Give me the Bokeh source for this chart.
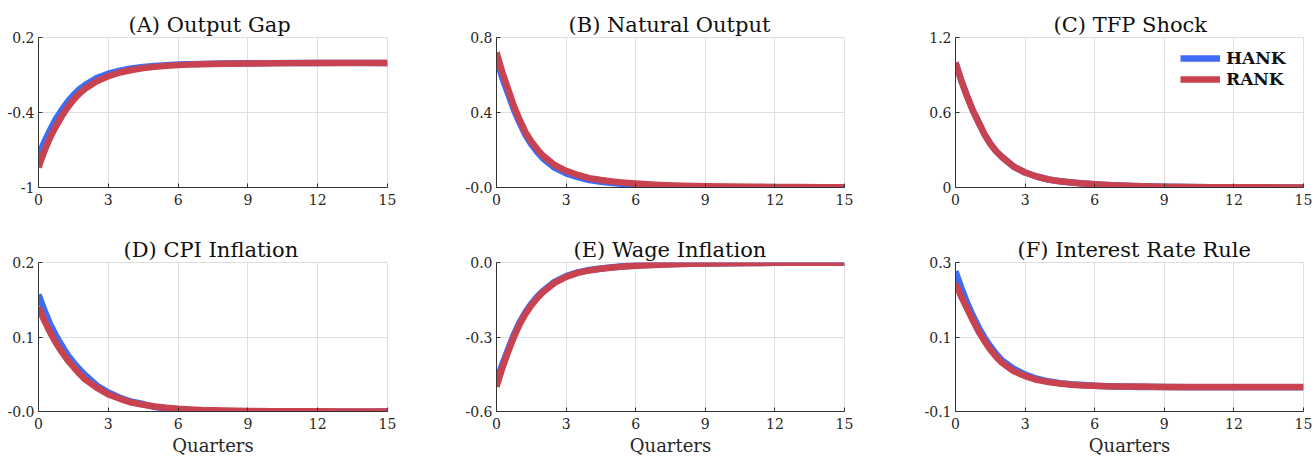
from bokeh.plotting import figure
from bokeh.models import Range1d, FixedTicker, Legend, LegendItem, Title
from bokeh.layouts import column, row
from bokeh.embed import file_html
from bokeh.resources import INLINE

# ---------------- data ----------------
quarters = [0, 0.25, 0.5, 0.75, 1, 1.25, 1.5, 1.75, 2,
            2.5, 3, 3.5, 4, 4.5, 5, 5.5, 6, 6.5, 7,
            8, 9, 10, 11, 12, 13, 14, 15]

gap_hank = [-0.75, -0.635, -0.54, -0.45, -0.38, -0.315, -0.26, -0.215, -0.18,
            -0.125, -0.09, -0.066, -0.048, -0.036, -0.027, -0.021, -0.016, -0.013, -0.011,
            -0.008, -0.006, -0.005, -0.004, -0.004, -0.003, -0.003, -0.003]
gap_rank = [-0.84, -0.71, -0.60, -0.51, -0.43, -0.36, -0.30, -0.25, -0.21,
            -0.15, -0.11, -0.08, -0.06, -0.045, -0.035, -0.027, -0.021, -0.017, -0.014,
            -0.010, -0.008, -0.006, -0.005, -0.004, -0.004, -0.003, -0.003]

nat_hank = [0.69, 0.585, 0.50, 0.415, 0.345, 0.28, 0.23, 0.19, 0.155,
            0.106, 0.075, 0.055, 0.04, 0.031, 0.024, 0.018, 0.013, 0.010, 0.008,
            0.005, 0.003, 0.002, 0.001, 0.001, 0.0, 0.0, 0.0]
nat_rank = [0.72, 0.615, 0.525, 0.435, 0.36, 0.295, 0.245, 0.205, 0.17,
            0.12, 0.089, 0.067, 0.05, 0.04, 0.032, 0.026, 0.021, 0.017, 0.014,
            0.010, 0.007, 0.005, 0.004, 0.003, 0.003, 0.002, 0.002]

tfp_hank = [1.0, 0.855, 0.73, 0.615, 0.52, 0.425, 0.35, 0.29, 0.245,
            0.168, 0.12, 0.088, 0.064, 0.05, 0.04, 0.032, 0.026, 0.021, 0.017,
            0.011, 0.007, 0.005, 0.003, 0.002, 0.002, 0.001, 0.001]
tfp_rank = [1.0, 0.855, 0.73, 0.615, 0.52, 0.425, 0.35, 0.29, 0.245,
            0.168, 0.12, 0.088, 0.064, 0.05, 0.04, 0.032, 0.026, 0.021, 0.017,
            0.011, 0.007, 0.005, 0.003, 0.002, 0.002, 0.001, 0.001]

cpi_hank = [0.157, 0.136, 0.117, 0.102, 0.0885, 0.076, 0.066, 0.057, 0.049,
            0.035, 0.0256, 0.0185, 0.013, 0.010, 0.006, 0.004, 0.002, 0.001, 0.0,
            -0.0005, -0.0005, -0.0005, -0.0004, -0.0003, -0.0002, -0.0002, -0.0001]
cpi_rank = [0.14, 0.122, 0.106, 0.092, 0.08, 0.069, 0.06, 0.051, 0.043,
            0.032, 0.023, 0.017, 0.012, 0.009, 0.0068, 0.005, 0.0037, 0.0028, 0.002,
            0.0013, 0.0008, 0.0005, 0.0003, 0.0002, 0.0001, 0.0, 0.0]

wage_hank = [-0.48, -0.41, -0.35, -0.29, -0.24, -0.20, -0.166, -0.138, -0.115,
             -0.078, -0.055, -0.04, -0.03, -0.024, -0.019, -0.015, -0.012, -0.010, -0.008,
             -0.005, -0.004, -0.003, -0.002, -0.0015, -0.001, -0.001, -0.001]
wage_rank = [-0.50, -0.425, -0.36, -0.30, -0.248, -0.207, -0.173, -0.144, -0.12,
             -0.082, -0.058, -0.042, -0.032, -0.025, -0.02, -0.016, -0.013, -0.011, -0.009,
             -0.006, -0.004, -0.003, -0.002, -0.0015, -0.001, -0.001, -0.001]

rate_hank = [0.276, 0.232, 0.192, 0.157, 0.125, 0.098, 0.075, 0.055, 0.037,
             0.015, -0.001, -0.012, -0.019, -0.024, -0.027, -0.029, -0.031, -0.032, -0.033,
             -0.034, -0.034, -0.035, -0.035, -0.035, -0.035, -0.035, -0.035]
rate_rank = [0.243, 0.208, 0.176, 0.144, 0.114, 0.089, 0.066, 0.047, 0.031,
             0.0085, -0.005, -0.015, -0.021, -0.025, -0.028, -0.030, -0.031, -0.032, -0.033,
             -0.033, -0.034, -0.034, -0.034, -0.034, -0.034, -0.034, -0.034]

x_ticks = [0, 3, 6, 9, 12, 15]

panel_letters = ["(A)", "(B)", "(C)", "(D)", "(E)", "(F)"]
panel_names = ["Output Gap", "Natural Output", "TFP Shock",
               "CPI Inflation", "Wage Inflation", "Interest Rate Rule"]

y_ticks = [[-1, -0.4, 0.2], [0, 0.4, 0.8], [0, 0.6, 1.2],
           [0, 0.1, 0.2], [-0.6, -0.3, 0.0], [-0.1, 0.1, 0.3]]
y_tick_labels = [["-1", "-0.4", "0.2"], ["-0.0", "0.4", "0.8"], ["0", "0.6", "1.2"],
                 ["-0.0", "0.1", "0.2"], ["-0.6", "-0.3", "0.0"], ["-0.1", "0.1", "0.3"]]

series = [(gap_hank, gap_rank), (nat_hank, nat_rank), (tfp_hank, tfp_rank),
          (cpi_hank, cpi_rank), (wage_hank, wage_rank), (rate_hank, rate_rank)]

legend_labels = ["HANK", "RANK"]

# ---------------- style ----------------
FONT = "DejaVu Serif"
BLUE = "#3f6cf4"
RED = "#c8434f"
AXC = "#333333"
GRIDC = "#dfdfdf"

# per column: (width, min_border_left, min_border_right)
cols = [(440, 38, 53), (460, 56, 56), (415, 55, 12)]
# per row: (height, min_border_top, min_border_bottom, show x label)
rows_geo = [(225, 37, 38, False), (233, 37, 46, True)]
# left edge of each title, measured from the frame's left edge
title_start = [90, 72, 98, 85, 77, 62]

figs = []
for i in range(6):
    r, c = divmod(i, 3)
    w, bl, br = cols[c]
    h, bt, bb, show_xlabel = rows_geo[r]
    lo, hi = y_ticks[i][0], y_ticks[i][-1]
    p = figure(width=w, height=h, output_backend="svg", toolbar_location=None,
               x_range=Range1d(0, 15), y_range=Range1d(lo, hi),
               min_border_left=bl, min_border_right=br,
               min_border_top=bt, min_border_bottom=bb,
               background_fill_color="white", border_fill_color="white",
               outline_line_color=GRIDC)
    p.title = Title(text=panel_letters[i] + " " + panel_names[i], align="left",
                    offset=title_start[i],
                    text_font=FONT, text_font_size="21px", text_font_style="normal",
                    text_color="#111111", standoff=1)
    hank, rank = series[i]
    rb = p.line(quarters, hank, line_color=BLUE, line_width=6.5, line_join="round")
    rr = p.line(quarters, rank, line_color=RED, line_width=6.5, line_join="round")

    p.xaxis.ticker = FixedTicker(ticks=x_ticks)
    p.yaxis.ticker = FixedTicker(ticks=y_ticks[i])
    p.yaxis.major_label_overrides = {v: s for v, s in zip(y_ticks[i], y_tick_labels[i])}
    p.xaxis.major_label_overrides = {v: str(v) for v in x_ticks}
    for ax in (p.xaxis, p.yaxis):
        ax.axis_line_color = AXC
        ax.axis_line_width = 1
        ax.major_tick_line_color = AXC
        ax.major_tick_in = 4
        ax.major_tick_out = 0
        ax.minor_tick_line_color = None
        ax.major_label_text_font = FONT
        ax.major_label_text_font_size = "14px"
        ax.major_label_text_color = "#262626"
    p.xaxis.major_label_standoff = 6
    p.yaxis.major_label_standoff = 4
    if show_xlabel:
        p.xaxis.axis_label = "Quarters"
        p.xaxis.axis_label_text_font = FONT
        p.xaxis.axis_label_text_font_size = "18px"
        p.xaxis.axis_label_text_font_style = "normal"
        p.xaxis.axis_label_text_color = "#262626"
        p.xaxis.axis_label_standoff = 3
    p.xgrid.ticker = FixedTicker(ticks=x_ticks)
    p.ygrid.ticker = FixedTicker(ticks=y_ticks[i])
    p.xgrid.grid_line_color = GRIDC
    p.ygrid.grid_line_color = GRIDC

    if i == 2:
        leg = Legend(items=[LegendItem(label=legend_labels[0], renderers=[rb]),
                            LegendItem(label=legend_labels[1], renderers=[rr])],
                     location="top_right", border_line_color=None,
                     background_fill_alpha=0, label_text_font=FONT,
                     label_text_font_style="bold", label_text_font_size="17px",
                     label_text_color="#111111",
                     glyph_width=40, glyph_height=20, label_height=20, label_width=66,
                     label_standoff=6, padding=0, spacing=1, margin=11)
        p.add_layout(leg)
    figs.append(p)

layout = column(row(*figs[:3]), row(*figs[3:]))
open("out.html", "w").write(file_html(layout, INLINE))
